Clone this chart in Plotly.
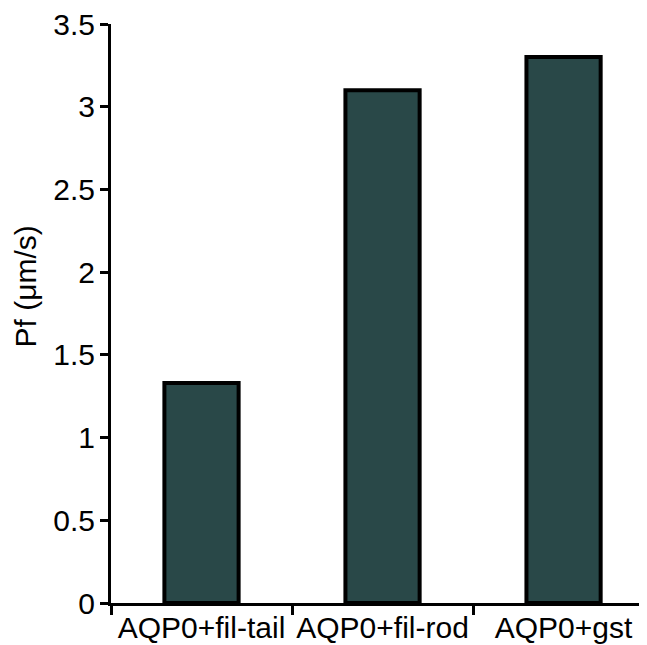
import plotly.graph_objects as go

categories = ["AQP0+fil-tail", "AQP0+fil-rod", "AQP0+gst"]
pf_values = [1.33, 3.1, 3.3]
y_ticks = [0, 0.5, 1, 1.5, 2, 2.5, 3, 3.5]
y_tick_labels = ["0", "0.5", "1", "1.5", "2", "2.5", "3", "3.5"]

FONT = "Liberation Sans, Arial, sans-serif"

fig = go.Figure(go.Bar(
    x=categories, y=pf_values, width=0.41,
    marker=dict(color="#294848", line=dict(color="black", width=4)),
))

fig.update_layout(
    width=639, height=637,
    margin=dict(l=103, r=0, t=16, b=42),
    plot_bgcolor="white", paper_bgcolor="white",
    showlegend=False,
    font=dict(family=FONT, size=30, color="black"),
)
fig.update_xaxes(
    type="category", range=[-0.5, 2.461], tickson="boundaries",
    showline=True, linecolor="black", linewidth=3,
    ticks="outside", ticklen=9, tickwidth=3, tickcolor="black",
    tickfont=dict(size=30), showgrid=False, zeroline=False,
    automargin=False, ticklabelstandoff=-4, tickangle=0,
    ticklabeloverflow="allow",
)
fig.update_yaxes(
    range=[0, 3.5], tickvals=y_ticks, ticktext=y_tick_labels,
    showline=True, linecolor="black", linewidth=3,
    ticks="outside", ticklen=8, tickwidth=3, tickcolor="black",
    tickfont=dict(size=30), showgrid=False, zeroline=False,
    automargin=False, ticklabelstandoff=-1,
    ticklabeloverflow="allow",
)
fig.add_annotation(
    text="Pf (μm/s)", textangle=-90, showarrow=False,
    xref="paper", yref="paper", x=-0.160, y=0.547,
    xanchor="center", yanchor="middle",
    font=dict(size=30, color="black", family=FONT),
)
fig.write_html("out.html")
